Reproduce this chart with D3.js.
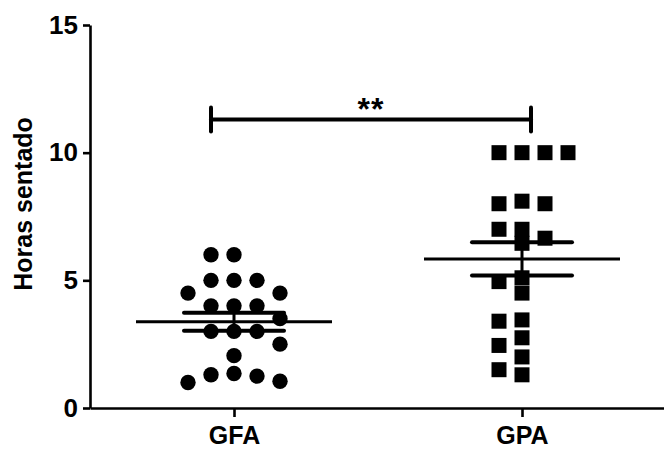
<!DOCTYPE html>
<html>
<head>
<meta charset="utf-8">
<script src="https://cdn.jsdelivr.net/npm/d3@7"></script>
<style>
  body { margin: 0; background: #fff; }
  text { font-family: Arial, "Liberation Sans", sans-serif; font-weight: bold; }
</style>
</head>
<body>
<div id="chart"></div>
<script>
// Data (hours sitting per person)
const groups = ["GFA", "GPA"];
const gfaHours = [6.0, 6.0, 5.0, 5.0, 5.0, 4.5, 4.5, 4.0, 4.0, 4.0, 3.5, 3.0, 3.0, 3.0, 2.5, 2.05, 1.35, 1.3, 1.25, 1.05, 1.0];
const gpaHours = [10, 10, 10, 10, 8.1, 8.0, 8.0, 7.0, 7.0, 6.65, 6.45, 5.1, 4.95, 4.5, 3.45, 3.4, 2.75, 2.45, 2.0, 1.5, 1.3];
const yTicks = [0, 5, 10, 15];
const yLabel = "Horas sentado";
const sigLabel = "**";
const sigLevel = 11.3;

const width = 664, height = 450;

const svg = d3.select("#chart").append("svg")
    .attr("width", width)
    .attr("height", height);

// scales
const x = d3.scalePoint()
  .domain(groups)
  .range([90, 666])
  .padding(0.5);

const y = d3.scaleLinear()
  .domain([0, 15])
  .range([408, 25]);

// axes
const yAxis = svg.append("g")
    .attr("transform", "translate(90,0)")
    .call(d3.axisLeft(y).tickValues(yTicks).tickSize(7).tickSizeOuter(0).tickPadding(5));

const xAxis = svg.append("g")
    .attr("transform", "translate(0,408)")
    .call(d3.axisBottom(x).tickSize(9).tickSizeOuter(0).tickPadding(9));

[yAxis, xAxis].forEach(g => {
  g.select(".domain").attr("stroke", "#000").attr("stroke-width", 2.6);
  g.selectAll(".tick line").attr("stroke", "#000").attr("stroke-width", 2.6);
  g.selectAll(".tick text").attr("fill", "#000").attr("font-size", 26);
});
xAxis.selectAll(".tick text").attr("font-size", 25);

svg.append("text")
    .attr("transform", "translate(32,204) rotate(-90)")
    .attr("text-anchor", "middle")
    .attr("font-size", 25)
    .text(yLabel);

// simple beeswarm: spread points sideways in slots so they don't pile up
const slotGap = 23, minGap = 14;
const slotOrder = [0, -1, 1, 2, -2, 3, -3];
function swarm(values) {
  const placed = [];
  values.slice().sort((a, b) => b - a).forEach(v => {
    const py = y(v);
    const slot = slotOrder.find(s => !placed.some(p => p.slot === s && Math.abs(p.py - py) < minGap));
    placed.push({ value: v, py, slot });
  });
  return placed;
}

const sets = [
  { key: "GFA", values: gfaHours },
  { key: "GPA", values: gpaHours }
];

// points
sets.forEach(s => {
  const pts = swarm(s.values);
  const cx = x(s.key);
  if (s.key === "GFA") {
    svg.append("g").selectAll("circle")
      .data(pts)
      .enter().append("circle")
        .attr("cx", d => cx + d.slot * slotGap)
        .attr("cy", d => d.py)
        .attr("r", 7.7)
        .attr("fill", "#000");
  } else {
    svg.append("g").selectAll("rect")
      .data(pts)
      .enter().append("rect")
        .attr("x", d => cx + d.slot * slotGap - 7.5)
        .attr("y", d => d.py - 7.5)
        .attr("width", 15)
        .attr("height", 15)
        .attr("fill", "#000");
  }
});

// mean and SEM lines
sets.forEach(s => {
  const cx = x(s.key);
  const m = d3.mean(s.values);
  const sem = d3.deviation(s.values) / Math.sqrt(s.values.length);
  const g = svg.append("g").attr("stroke", "#000").attr("stroke-linecap", "round");
  g.append("line")
    .attr("x1", cx).attr("x2", cx)
    .attr("y1", y(m + sem)).attr("y2", y(m - sem))
    .attr("stroke-width", 3);
  [m + sem, m - sem].forEach(v => {
    g.append("line")
      .attr("x1", cx - 50).attr("x2", cx + 50)
      .attr("y1", y(v)).attr("y2", y(v))
      .attr("stroke-width", 4);
  });
  g.append("line")
    .attr("x1", cx - 98).attr("x2", cx + 98)
    .attr("y1", y(m)).attr("y2", y(m))
    .attr("stroke-width", 3)
    .attr("stroke-linecap", "butt");
});

// significance bracket
const bx1 = x("GFA") - 23, bx2 = x("GPA") + 9, by = y(sigLevel);
const br = svg.append("g").attr("stroke", "#000").attr("stroke-width", 4).attr("stroke-linecap", "round");
br.append("line").attr("x1", bx1).attr("x2", bx2).attr("y1", by).attr("y2", by);
[bx1, bx2].forEach(bx => {
  br.append("line").attr("x1", bx).attr("x2", bx).attr("y1", by - 12).attr("y2", by + 12);
});
svg.append("text")
    .attr("x", (bx1 + bx2) / 2)
    .attr("y", by + 1)
    .attr("text-anchor", "middle")
    .attr("font-size", 32)
    .attr("letter-spacing", 1)
    .text(sigLabel);
</script>
</body>
</html>
